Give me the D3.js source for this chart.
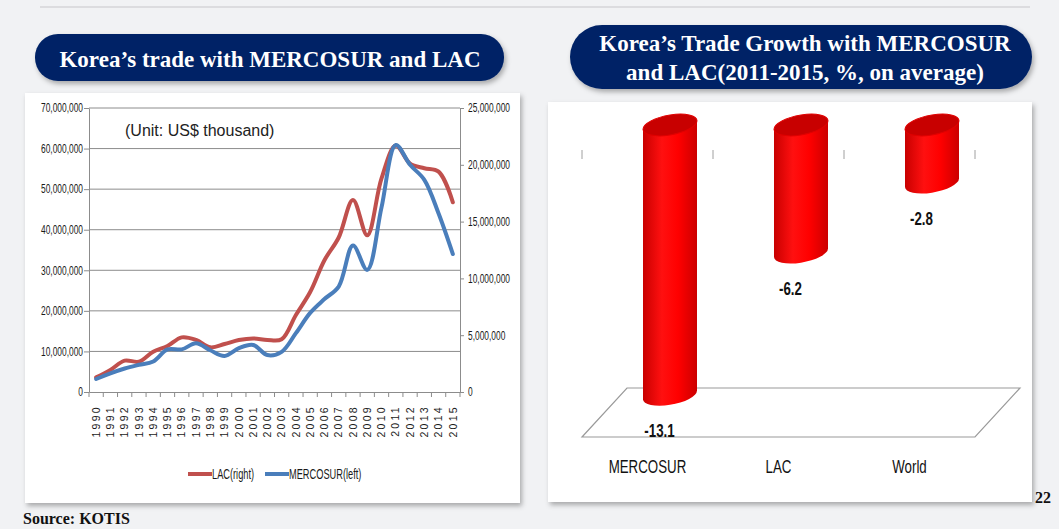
<!DOCTYPE html>
<html>
<head>
<meta charset="utf-8">
<script src="https://cdn.jsdelivr.net/npm/d3@7"></script>
<style>
  html, body { margin: 0; padding: 0; background: #f1f2f4; }
  svg { display: block; }
</style>
</head>
<body>
<div id="slide"></div>
<script>
// ---- data ----
var years = ["1990","1991","1992","1993","1994","1995","1996","1997","1998","1999","2000","2001","2002",
             "2003","2004","2005","2006","2007","2008","2009","2010","2011","2012","2013","2014","2015"];
// LAC, right axis (US$ thousand)
var lacValues = [1290000,1940000,2760000,2670000,3550000,4050000,4810000,4580000,3930000,4220000,4580000,4720000,4580000,
                 4640000,6780000,8800000,11600000,13600000,16900000,13800000,18800000,21700000,20100000,19700000,19400000,16700000];
// MERCOSUR, left axis (US$ thousand)
var mercoValues = [3200000,4600000,5800000,6700000,7500000,10500000,10500000,12000000,10300000,8900000,10800000,11600000,9100000,
                   9900000,14500000,19500000,22900000,26000000,36100000,30100000,45500000,60900000,56000000,52300000,44000000,34000000];
var leftTicks = [0,10000000,20000000,30000000,40000000,50000000,60000000,70000000];
var rightTicks = [0,5000000,10000000,15000000,20000000,25000000];

var growthCats = ["MERCOSUR","LAC","World"];
var growthValues = [-13.1,-6.2,-2.8];

var W = 1059, H = 529;
var sans = '"Liberation Sans",Arial,sans-serif';
var serif = '"Liberation Serif","Times New Roman",serif';

// narrow text: Arial-like glyphs squeezed horizontally
function narrowText(sel, x, y, sx){
  sel.attr("x", x / sx).attr("y", y).attr("transform", "scale(" + sx + ",1)")
     .style("font-family", sans);
  return sel;
}

var svg = d3.select("#slide").append("svg").attr("width", W).attr("height", H);
var defs = svg.append("defs");

var sh = defs.append("filter").attr("id","shadow").attr("x","-5%").attr("y","-5%").attr("width","115%").attr("height","120%");
sh.append("feDropShadow").attr("dx",2).attr("dy",3).attr("stdDeviation",2.5).attr("flood-color","#000").attr("flood-opacity",0.3);

var cylGrad = defs.append("linearGradient").attr("id","cyl").attr("x1","0").attr("x2","1").attr("y1","0").attr("y2","0");
cylGrad.append("stop").attr("offset","0%").attr("stop-color","#c80000");
cylGrad.append("stop").attr("offset","35%").attr("stop-color","#ff1010");
cylGrad.append("stop").attr("offset","65%").attr("stop-color","#ff0000");
cylGrad.append("stop").attr("offset","100%").attr("stop-color","#cc0000");

// slide header line
svg.append("line").attr("x1",40).attr("x2",1030).attr("y1",7).attr("y2",7)
  .attr("stroke","#d4d5d8").attr("stroke-width",1.5);

// ---- panels ----
svg.append("rect").attr("x",25).attr("y",93).attr("width",495).attr("height",410)
  .attr("fill","#fff").attr("filter","url(#shadow)");
svg.append("rect").attr("x",548).attr("y",102).attr("width",484).attr("height",400)
  .attr("fill","#fff").attr("filter","url(#shadow)");

// ---- title pills ----
svg.append("rect").attr("x",35).attr("y",34).attr("width",469).attr("height",47).attr("rx",23)
  .attr("fill","#062466").attr("filter","url(#shadow)");
svg.append("text").attr("x",270).attr("y",67).attr("text-anchor","middle")
  .style("font-family",serif).style("font-weight","bold").style("font-size","23px").attr("fill","#fff")
  .text("Korea\u2019s trade with MERCOSUR and LAC");

svg.append("rect").attr("x",570).attr("y",25).attr("width",462).attr("height",64).attr("rx",32)
  .attr("fill","#062466").attr("filter","url(#shadow)");
svg.append("text").attr("x",805).attr("y",51).attr("text-anchor","middle")
  .style("font-family",serif).style("font-weight","bold").style("font-size","23px").attr("fill","#fff")
  .text("Korea\u2019s Trade Growth with MERCOSUR");
svg.append("text").attr("x",805).attr("y",80).attr("text-anchor","middle")
  .style("font-family",serif).style("font-weight","bold").style("font-size","23px").attr("fill","#fff")
  .text("and LAC(2011-2015, %, on average)");

// ---- left line chart ----
var pl = {l: 89, r: 460, t: 108, b: 392};
var x = d3.scaleBand().domain(years).range([pl.l, pl.r]);
var yL = d3.scaleLinear().domain([0, 70000000]).range([pl.b, pl.t]);
var yR = d3.scaleLinear().domain([0, 25000000]).range([pl.b, pl.t]);

var lc = svg.append("g");
lc.selectAll(".grid").data(leftTicks.filter(function(d){ return d > 0; })).enter().append("line")
  .attr("x1", pl.l).attr("x2", pl.r).attr("y1", function(d){ return yL(d); }).attr("y2", function(d){ return yL(d); })
  .attr("stroke","#8c8c8c").attr("stroke-width",1);

var axL = lc.append("g").attr("transform","translate(" + pl.l + ",0)")
  .call(d3.axisLeft(yL).tickValues(leftTicks).tickFormat(d3.format(",")).tickSize(5).tickSizeOuter(0));
var axR = lc.append("g").attr("transform","translate(" + pl.r + ",0)")
  .call(d3.axisRight(yR).tickValues(rightTicks).tickFormat(d3.format(",")).tickSize(4).tickSizeOuter(0));
var axX = lc.append("g").attr("transform","translate(0," + pl.b + ")")
  .call(d3.axisBottom(x).tickSize(0));
// category tick marks between years
axX.selectAll(".sep").data(d3.range(years.length + 1)).enter().append("line")
  .attr("x1", function(i){ return pl.l + i * x.step(); }).attr("x2", function(i){ return pl.l + i * x.step(); })
  .attr("y1", 0).attr("y2", 5).attr("stroke","#8c8c8c");

[axL, axR, axX].forEach(function(a){
  a.select(".domain").attr("stroke","#8c8c8c");
  a.selectAll(".tick line").attr("stroke","#8c8c8c");
  a.selectAll("text").attr("fill","#1a1a1a").style("font-size","12px");
});
axL.selectAll(".tick text").each(function(){ narrowText(d3.select(this), -6, 0, 0.7); });
axR.selectAll(".tick text").each(function(){ narrowText(d3.select(this), 8, 0, 0.7); });
axX.selectAll("text")
  .attr("transform","rotate(-90)").attr("text-anchor","end").attr("dy","0.35em")
  .attr("x", -13).attr("y", 0)
  .style("font-family",sans).style("font-size","10.5px").style("letter-spacing","2.3px");

var lineL = d3.line().x(function(d, i){ return x(years[i]) + x.bandwidth() / 2; })
  .y(function(d){ return yR(d); }).curve(d3.curveCatmullRom.alpha(0.5));
var lineM = d3.line().x(function(d, i){ return x(years[i]) + x.bandwidth() / 2; })
  .y(function(d){ return yL(d); }).curve(d3.curveCatmullRom.alpha(0.5));

lc.append("path").datum(lacValues).attr("d", lineL).attr("fill","none")
  .attr("stroke","#c0504d").attr("stroke-width",4).attr("stroke-linejoin","round").attr("stroke-linecap","round");
lc.append("path").datum(mercoValues).attr("d", lineM).attr("fill","none")
  .attr("stroke","#4a7ebb").attr("stroke-width",4).attr("stroke-linejoin","round").attr("stroke-linecap","round");

lc.append("text").attr("x",125).attr("y",136)
  .style("font-family",sans).style("font-size","16px").attr("fill","#222")
  .text("(Unit: US$ thousand)");

// legend
var legend = [{name:"LAC(right)", color:"#c0504d", x:188}, {name:"MERCOSUR(left)", color:"#4a7ebb", x:265}];
var lg = lc.selectAll(".leg").data(legend).enter().append("g")
  .attr("transform", function(d){ return "translate(" + d.x + ",474)"; });
lg.append("line").attr("x1",0).attr("x2",24).attr("stroke", function(d){ return d.color; }).attr("stroke-width",4);
lg.append("text").attr("dy","0.35em").attr("fill","#1a1a1a").style("font-size","14px")
  .text(function(d){ return d.name; })
  .each(function(){ narrowText(d3.select(this), 24, 0, 0.66); });

// ---- right 3D cylinder chart ----
var xc = d3.scaleBand().domain(growthCats).range([582, 975]);
var yc = d3.scaleLinear().domain([-15, 0]).range([434, 125]);
var depth = {dx: 45, dy: -49};
var rc = svg.append("g");

// floor
var fy = 437;
rc.append("path")
  .attr("d", "M" + xc.range()[0] + "," + fy + "L" + xc.range()[1] + "," + fy +
             "L" + (xc.range()[1] + depth.dx) + "," + (fy + depth.dy) +
             "L" + (xc.range()[0] + depth.dx) + "," + (fy + depth.dy) + "Z")
  .attr("fill","#fff").attr("stroke","#9a9a9a").attr("stroke-width",1.2);

// tick marks at category boundaries
rc.selectAll(".ctick").data(d3.range(growthCats.length + 1)).enter().append("line")
  .attr("x1", function(i){ return xc.range()[0] + i * xc.step(); })
  .attr("x2", function(i){ return xc.range()[0] + i * xc.step(); })
  .attr("y1", 150).attr("y2", 159).attr("stroke","#a0a0a0");

var cr = 27, ery = 10;
var cyl = rc.selectAll(".cyl").data(growthValues).enter().append("g")
  .attr("transform", function(d, i){
    return "translate(" + (xc(growthCats[i]) + xc.bandwidth() / 2 + depth.dx / 2) + ",0) skewY(-9)";
  });
cyl.append("path").attr("d", function(d){
    var y0 = yc(0), y1 = yc(d);
    return "M" + (-cr) + "," + y0 + "L" + (-cr) + "," + y1 +
           "A" + cr + "," + ery + " 0 0 0 " + cr + "," + y1 + "L" + cr + "," + y0 + "Z";
  }).attr("fill","url(#cyl)");
cyl.append("ellipse").attr("cx",0).attr("cy", yc(0)).attr("rx", cr).attr("ry", ery)
  .attr("fill","#c80000").attr("stroke","#e00000").attr("stroke-width",1);

rc.selectAll(".vlab").data(growthValues).enter().append("text")
  .attr("text-anchor","middle").attr("fill","#111")
  .style("font-weight","bold").style("font-size","18px")
  .text(function(d){ return d; })
  .each(function(d, i){
    narrowText(d3.select(this), xc(growthCats[i]) + xc.bandwidth() / 2 + 12, yc(d) + 42, 0.74);
  });

rc.selectAll(".clab").data(growthCats).enter().append("text")
  .attr("text-anchor","middle").attr("fill","#111").style("font-size","18px")
  .text(function(d){ return d; })
  .each(function(d){ narrowText(d3.select(this), xc(d) + xc.bandwidth() / 2, 473, 0.74); });

// ---- footer ----
svg.append("text").attr("x",23).attr("y",524)
  .style("font-family",serif).style("font-weight","bold").style("font-size","16px").attr("fill","#111")
  .text("Source: KOTIS");
svg.append("text").attr("x",1035).attr("y",503)
  .style("font-family",serif).style("font-weight","bold").style("font-size","16px").attr("fill","#111")
  .text("22");
</script>
</body>
</html>
